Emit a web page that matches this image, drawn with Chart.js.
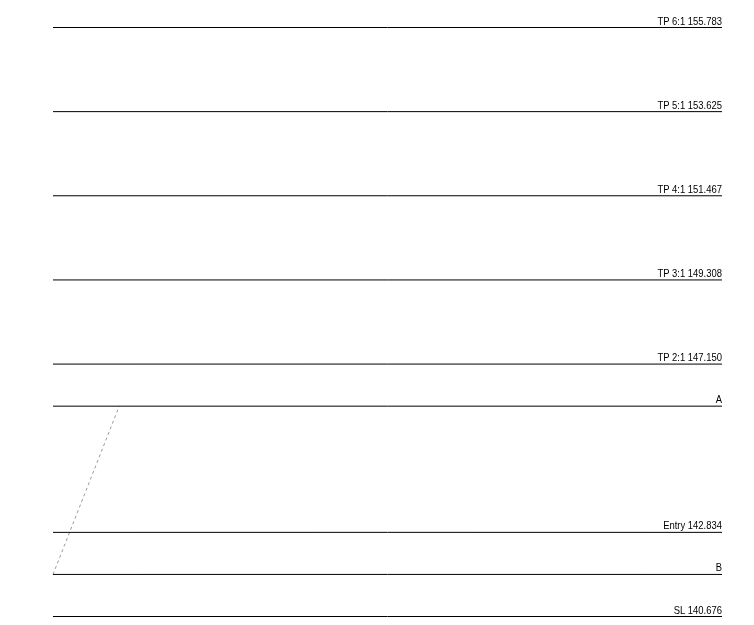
<!DOCTYPE html>
<html>
<head>
<meta charset="utf-8">
<script src="https://cdn.jsdelivr.net/npm/chart.js@4"></script>
<style>
html,body{margin:0;padding:0;background:#fff;}
#c{display:block;}
</style>
</head>
<body>
<canvas id="c" width="754" height="625"></canvas>
<script>
// Level names and prices
const levelNames = ['TP 6:1', 'TP 5:1', 'TP 4:1', 'TP 3:1', 'TP 2:1', 'A', 'Entry', 'B', 'SL'];
const levelValues = [155.783, 153.625, 151.467, 149.308, 147.150, 146.071, 142.834, 141.755, 140.676];
const showPrice = [true, true, true, true, true, false, true, false, true];
// Horizontal extent of level lines (x units)
const lineStartX = 0;
const lineEndX = 100;
// Dashed path B -> A
const pathX = [0, 9.9];
const pathY = [141.755, 146.071];

const datasets = levelValues.map((v, i) => ({
  label: levelNames[i],
  data: [{x: lineStartX, y: v}, {x: lineEndX, y: v}],
  borderColor: '#000',
  borderWidth: 1,
  pointRadius: 0,
  showLine: true,
  clip: false
}));
datasets.push({
  label: 'path',
  data: pathX.map((x, i) => ({x: x, y: pathY[i]})),
  borderColor: '#9a9a9a',
  borderWidth: 1,
  borderDash: [3, 3],
  pointRadius: 0,
  showLine: true,
  clip: false
});

const labelPlugin = {
  id: 'levelLabels',
  afterDatasetsDraw(chart) {
    const ctx = chart.ctx;
    const xs = chart.scales.x, ys = chart.scales.y;
    ctx.save();
    ctx.font = '10.5px "Liberation Sans"';
    ctx.fillStyle = '#000';
    ctx.textAlign = 'right';
    ctx.textBaseline = 'alphabetic';
    const sx = 0.9;
    levelValues.forEach((v, i) => {
      const t = showPrice[i] ? levelNames[i] + ' ' + v.toFixed(3) : levelNames[i];
      const px = xs.getPixelForValue(lineEndX);
      const py = Math.round(ys.getPixelForValue(v)) - 3;
      ctx.save();
      ctx.translate(px, py);
      ctx.scale(sx, 1);
      ctx.fillText(t, 0, 0);
      ctx.restore();
    });
    ctx.restore();
  }
};

new Chart(document.getElementById('c'), {
  type: 'scatter',
  data: { datasets },
  options: {
    responsive: false,
    animation: false,
    layout: { padding: { left: 53, right: 32, top: 27.5, bottom: 8.5 } },
    plugins: { legend: { display: false }, tooltip: { enabled: false } },
    scales: {
      x: { type: 'linear', min: lineStartX, max: lineEndX, display: false },
      y: { type: 'linear', min: 140.676, max: 155.783, display: false }
    }
  },
  plugins: [labelPlugin]
});
</script>
</body>
</html>
